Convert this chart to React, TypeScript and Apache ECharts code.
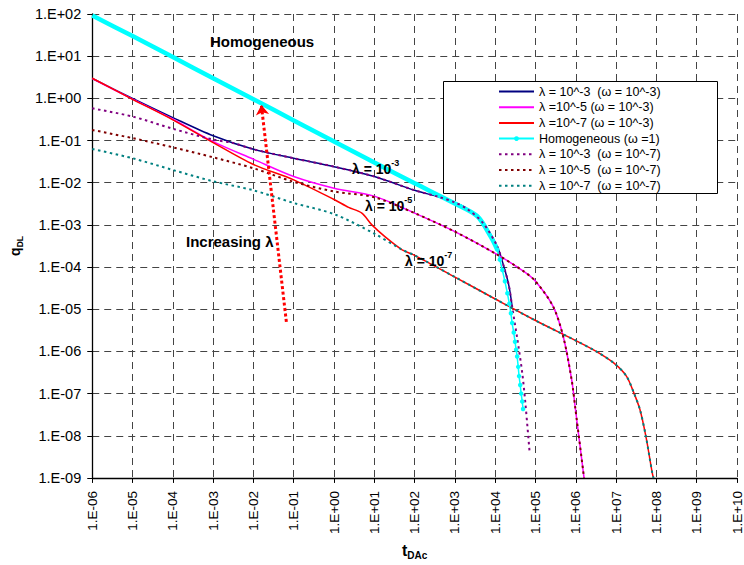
import React, { useEffect, useRef } from "react";
import * as echarts from "echarts";

// t_DAc, q_DL pairs
const lam3w3: [number, number][] = [
  [1e-6, 2.95], [1e-5, 1.0], [1e-4, 0.35], [1e-3, 0.13], [1e-2, 0.062], [1e-1, 0.038],
  [1, 0.024], [10, 0.014], [100, 0.0066], [400, 0.0046], [1000, 0.0034], [2000, 0.0024],
  [5000, 0.0011], [1.12e4, 3.1e-4], [1.65e4, 1.0e-4], [2.2e4, 3.5e-5], [2.63e4, 1.15e-5],
];
const lam5w3: [number, number][] = [
  [1e-6, 2.95], [1e-5, 0.96], [1e-4, 0.32], [1e-3, 0.094], [1e-2, 0.036], [1e-1, 0.014],
  [1, 0.0074], [10, 0.0048], [100, 0.0019], [1000, 6.9e-4], [1e4, 2.1e-4], [5.1e4, 7.9e-5],
  [1e5, 4.6e-5], [2.75e5, 1.15e-5], [4.9e5, 2.2e-6], [7.9e5, 2.1e-7], [9.8e5, 4.2e-8],
  [1.6e6, 1e-9],
];
const lam7w3: [number, number][] = [
  [1e-6, 3.0], [1e-5, 0.95], [1e-4, 0.31], [1e-3, 0.089], [1e-2, 0.027], [1e-1, 0.0117],
  [1, 0.004], [2.3, 0.0026], [4.9, 0.0019], [8.7, 0.001], [18.6, 5.2e-4], [48, 2.6e-4],
  [100, 1.9e-4], [1e3, 5.8e-5], [1e4, 1.75e-5], [1e5, 5.4e-6], [1e6, 1.8e-6], [3.2e6, 1.0e-6],
  [9e6, 5.2e-7], [1.8e7, 2.6e-7], [2.8e7, 1.0e-7], [3.9e7, 4.2e-8], [5.5e7, 9.5e-9],
  [7.9e7, 1.3e-9], [8.5e7, 1e-9],
];
const homogeneousEarly: [number, number][] = [
  [1e-6, 92], [1e-5, 30], [1e-4, 9.5], [1e-3, 3.0], [1e-2, 0.95], [1e-1, 0.3], [1, 0.095],
  [10, 0.03], [100, 0.0097], [1000, 0.0032], [3600, 0.0016], [7800, 5.2e-4], [1.12e4, 2.6e-4],
];
const homogeneousTail: [number, number][] = [
  [1.12e4, 2.6e-4], [1.3e4, 1.5e-4], [1.5e4, 8.5e-5], [1.74e4, 4.6e-5], [2.0e4, 2.4e-5],
  [2.24e4, 1.35e-5], [2.45e4, 8e-6], [2.63e4, 4.7e-6], [2.88e4, 2.8e-6], [3.1e4, 1.7e-6],
  [3.3e4, 1.1e-6], [3.5e4, 7.6e-7], [3.72e4, 4.3e-7], [3.9e4, 2.6e-7], [4.17e4, 1.6e-7],
  [4.4e4, 1e-7], [4.68e4, 6.5e-8], [4.9e4, 4.3e-8],
];
const lam3w7: [number, number][] = [
  [1e-6, 0.58], [1e-5, 0.37], [1e-4, 0.19], [1e-3, 0.105], [3e-3, 0.088], [1e-2, 0.062],
  [1e-1, 0.038], [1, 0.024], [10, 0.014], [100, 0.0066], [400, 0.0046], [1000, 0.0034],
  [2000, 0.0024], [5000, 0.0011], [1.12e4, 3.1e-4], [1.65e4, 1.0e-4], [2.2e4, 3.5e-5],
  [2.63e4, 1.15e-5], [3.47e4, 2.2e-6], [4.68e4, 3.1e-7], [5.6e4, 5.9e-8], [7.1e4, 4.3e-9],
];
const lam5w7: [number, number][] = [
  [1e-6, 0.178], [1e-5, 0.114], [1e-4, 0.069], [1e-3, 0.04], [1e-2, 0.022], [1e-1, 0.0105],
  [1, 0.0062], [10, 0.0045], [100, 0.0019], [1000, 6.9e-4], [1e4, 2.1e-4], [5.1e4, 7.9e-5],
  [1e5, 4.6e-5], [2.75e5, 1.15e-5], [4.9e5, 2.2e-6], [7.9e5, 2.1e-7], [9.8e5, 4.2e-8],
  [1.6e6, 1e-9],
];
const lam7w7: [number, number][] = [
  [1e-6, 0.063], [1e-5, 0.038], [1e-4, 0.02], [1e-3, 0.0108], [1e-2, 0.0066], [1e-1, 0.0033],
  [1, 0.0018], [10, 6.2e-4], [48, 2.6e-4], [100, 1.9e-4], [1e3, 5.8e-5], [1e4, 1.75e-5],
  [1e5, 5.4e-6], [1e6, 1.8e-6], [3.2e6, 1.0e-6], [9e6, 5.2e-7], [1.8e7, 2.6e-7], [2.8e7, 1.0e-7],
  [3.9e7, 4.2e-8], [5.5e7, 9.5e-9], [7.9e7, 1.3e-9], [8.5e7, 1e-9],
];
// "Increasing λ" arrow: from (t, q) to (t, q)
const arrowFrom: [number, number] = [0.0656, 5.0e-6];
const arrowTo: [number, number] = [0.0157, 0.7];

const xTickLabels = [
  "1.E-06", "1.E-05", "1.E-04", "1.E-03", "1.E-02", "1.E-01", "1.E+00", "1.E+01", "1.E+02",
  "1.E+03", "1.E+04", "1.E+05", "1.E+06", "1.E+07", "1.E+08", "1.E+09", "1.E+10",
];
const yTickLabels = [
  "1.E-09", "1.E-08", "1.E-07", "1.E-06", "1.E-05", "1.E-04", "1.E-03", "1.E-02", "1.E-01",
  "1.E+00", "1.E+01", "1.E+02",
];

const names = [
  "λ = 10^-3  (ω = 10^-3)",
  "λ =10^-5 (ω = 10^-3)",
  "λ =10^-7 (ω = 10^-3)",
  "Homogeneous (ω =1)",
  "λ = 10^-3  (ω = 10^-7)",
  "λ = 10^-5  (ω = 10^-7)",
  "λ = 10^-7  (ω = 10^-7)",
];

const FONT = "'Liberation Sans', Arial, sans-serif";
const SMOOTH = 0.3;

export default function App() {
  const ref = useRef<HTMLDivElement>(null);
  useEffect(() => {
    if (!ref.current) return;
    const chart = echarts.init(ref.current, undefined, { renderer: "svg" });
    const solid = (name: string, data: [number, number][], color: string, width: number) => ({
      name, type: "line", data, symbol: "none", smooth: SMOOTH,
      lineStyle: { color, width }, itemStyle: { color }, silent: true, clip: true,
    });
    const dotted = (name: string, data: [number, number][], color: string) => ({
      name, type: "line", data, symbol: "none", smooth: SMOOTH,
      lineStyle: { color, width: 2, type: [2.5, 3.5] }, itemStyle: { color }, silent: true, clip: true,
    });
    const option: any = {
      animation: false,
      textStyle: { fontFamily: FONT },
      grid: { left: 91, right: 2, top: 14, bottom: 87, containLabel: false },
      xAxis: {
        type: "log", logBase: 10, min: 1e-6, max: 1e10, interval: 1,
        name: "{t|t}{s|DAc}", nameLocation: "middle", nameGap: 64,
        nameTextStyle: {
          rich: {
            t: { fontSize: 16, fontWeight: "bold", color: "#000", verticalAlign: "top", lineHeight: 18, fontFamily: FONT },
            s: { fontSize: 10, fontWeight: "bold", color: "#000", verticalAlign: "bottom", lineHeight: 11, fontFamily: FONT },
          },
        },
        axisLine: { lineStyle: { color: "#000", width: 1.3 } },
        axisTick: { show: true, length: 5, lineStyle: { color: "#000" } },
        minorTick: { show: false },
        axisLabel: {
          rotate: 90, margin: 13, fontSize: 13.5, color: "#000", fontFamily: FONT,
          formatter: (v: number) => xTickLabels[Math.round(Math.log10(v)) + 6] ?? "",
        },
        splitLine: { show: true, lineStyle: { color: "#444", width: 1, type: [7, 5] } },
      },
      yAxis: {
        type: "log", logBase: 10, min: 1e-9, max: 1e2, interval: 1,
        name: "{q|q}{s|DL}", nameLocation: "middle", nameGap: 66, nameRotate: 90,
        nameTextStyle: {
          rich: {
            q: { fontSize: 14, fontWeight: "bold", color: "#000", verticalAlign: "top", lineHeight: 16, fontFamily: FONT },
            s: { fontSize: 8.5, fontWeight: "bold", color: "#000", verticalAlign: "bottom", lineHeight: 9, fontFamily: FONT },
          },
        },
        axisLine: { show: true, lineStyle: { color: "#000", width: 1.3 } },
        axisTick: { show: true, length: 5, lineStyle: { color: "#000" } },
        axisLabel: {
          margin: 11, fontSize: 14.5, color: "#000", fontFamily: FONT,
          formatter: (v: number) => yTickLabels[Math.round(Math.log10(v)) + 9] ?? "",
        },
        splitLine: { show: true, lineStyle: { color: "#444", width: 1, type: [7, 5] } },
      },
      legend: {
        data: names.map((n, i) => (i === 3 ? { name: n } : { name: n, itemStyle: { opacity: 0 } })),
        orient: "vertical", left: 498, top: 84.5, itemWidth: 35, itemHeight: 6,
        itemGap: 1.7, padding: 0, selectedMode: false,
        textStyle: { fontSize: 12.5, color: "#000", lineHeight: 14, fontFamily: FONT },
      },
      graphic: [
        { type: "rect", z: 3, shape: { x: 443.5, y: 81.5, width: 274, height: 112 },
          style: { fill: "#fff", stroke: "#000", lineWidth: 1 } },
        { type: "text", z: 5, x: 210, y: 41, style: { text: "Homogeneous", font: `bold 15px ${FONT}`, fill: "#000", verticalAlign: "middle" } },
        { type: "text", z: 5, x: 186, y: 241, style: { text: "Increasing λ", font: `bold 15px ${FONT}`, fill: "#000", verticalAlign: "middle" } },
        ...[["-3", 352, 167], ["-5", 365, 204], ["-7", 405, 259]].map(([e, x, y]) => ({
          type: "text", z: 5, x, y,
          style: {
            text: `{b|λ = 10}{p|${e}}`, verticalAlign: "middle",
            rich: {
              b: { fontSize: 14, fontWeight: "bold", fill: "#000", verticalAlign: "bottom", lineHeight: 17, fontFamily: FONT },
              p: { fontSize: 9, fontWeight: "bold", fill: "#000", verticalAlign: "top", lineHeight: 10, fontFamily: FONT },
            },
          },
        })),
      ],
      series: [
        solid(names[0], lam3w3, "#000080", 1.5),
        solid(names[1], lam5w3, "#ff00ff", 1.5),
        solid(names[2], lam7w3, "#ff0000", 1.5),
        {
          name: names[3], type: "line", data: homogeneousTail, symbol: "circle", symbolSize: 4.5,
          showSymbol: true, showAllSymbol: true, lineStyle: { color: "#00ffff", width: 1.5 },
          itemStyle: { color: "#00ffff" }, silent: true,
        },
        solid(names[3], homogeneousEarly, "#00ffff", 4.5),
        dotted(names[4], lam3w7, "#800080"),
        dotted(names[5], lam5w7, "#800000"),
        dotted(names[6], lam7w7, "#008080"),
        {
          name: "arrow", type: "line", data: [], silent: true, z: 6,
          markLine: {
            silent: true, symbol: ["none", "arrow"], symbolSize: 10,
            label: { show: false },
            lineStyle: { color: "#ff0000", width: 3, type: [3, 2.5] },
            data: [[{ coord: arrowFrom }, { coord: arrowTo }]],
          },
        },
      ],
    };
    chart.setOption(option);
    return () => chart.dispose();
  }, []);
  return (
    <div
      ref={ref}
      style={{ position: "fixed", left: 0, top: 0, width: 744, height: 565, background: "#fff" }}
    />
  );
}
